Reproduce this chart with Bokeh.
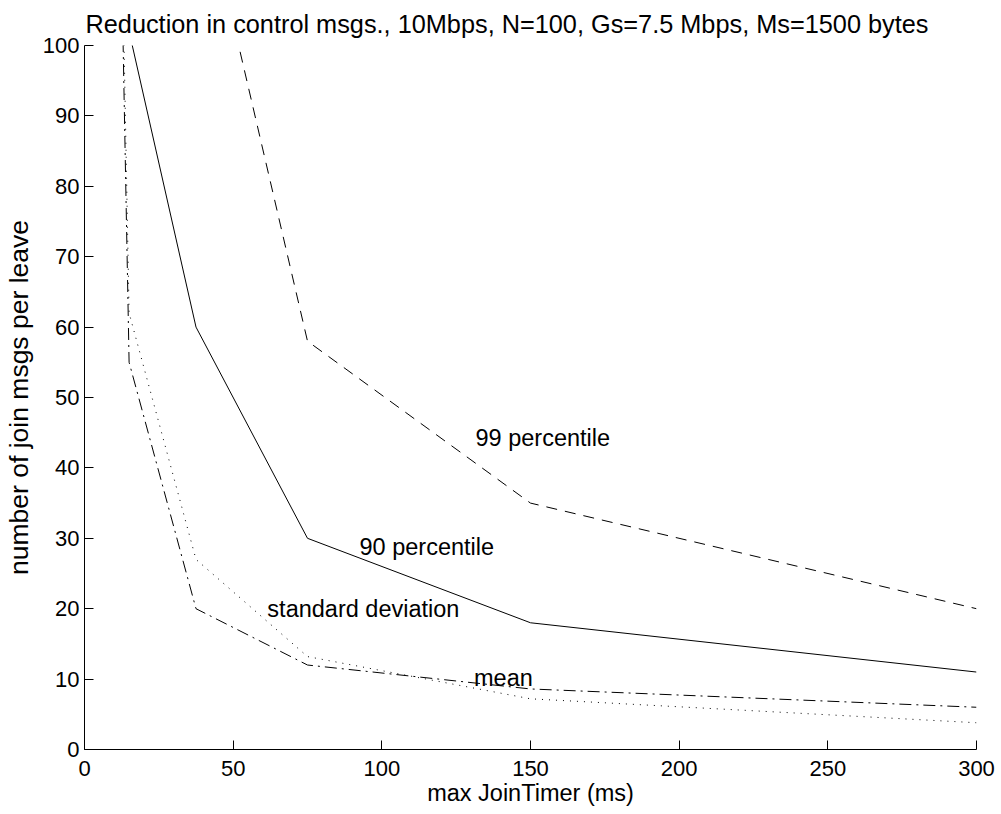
from bokeh.plotting import figure
from bokeh.models import Range1d, FixedTicker, Title
from bokeh.core.properties import value
from bokeh.embed import file_html
from bokeh.resources import INLINE

# data
join_timer = [12.5, 15, 37.5, 75, 150, 300]
pct99 = [230, 200, 126, 58, 35, 20]
pct90 = [110, 102, 60, 30, 18, 11]
mean_msgs = [111, 55, 20, 12, 8.6, 6]
std_msgs = [118, 62, 27, 13.2, 7.2, 3.8]

label_texts = ["99 percentile", "90 percentile", "standard deviation", "mean"]
label_x = [131.5, 92.5, 61.5, 131.0]
label_y = [44.2, 28.8, 20.0, 10.1]

x_ticks = [0, 50, 100, 150, 200, 250, 300]
y_ticks = [0, 10, 20, 30, 40, 50, 60, 70, 80, 90, 100]

title_text = "Reduction in control msgs., 10Mbps, N=100, Gs=7.5 Mbps, Ms=1500 bytes"

FONT = "Liberation Sans"

p = figure(width=1001, height=814, frame_width=892, frame_height=704,
           output_backend="svg", toolbar_location=None,
           x_range=Range1d(0, 300), y_range=Range1d(0, 100),
           min_border_left=84, min_border_right=25, min_border_top=45,
           min_border_bottom=65)
p.title = None
t = Title(text=title_text, align="left", offset=1, text_font=FONT,
          text_font_size="25.3px", text_font_style="normal",
          text_color="black", standoff=12, vertical_align="top")
p.add_layout(t, "above")

p.outline_line_color = None
p.grid.visible = False
p.background_fill_color = "white"
p.border_fill_color = "white"

for ax in (p.xaxis[0], p.yaxis[0]):
    ax.major_tick_in = 9
    ax.major_tick_out = 0
    ax.minor_tick_line_color = None
    ax.axis_line_color = "black"
    ax.major_tick_line_color = "black"
    ax.major_label_text_font = FONT
    ax.major_label_text_font_size = "22px"
    ax.major_label_text_color = "black"
    ax.axis_label_text_font = FONT
    ax.axis_label_text_font_style = "normal"
    ax.axis_label_text_color = "black"

p.xaxis.ticker = FixedTicker(ticks=x_ticks)
p.yaxis.ticker = FixedTicker(ticks=y_ticks)
p.xaxis.axis_label = "max JoinTimer (ms)"
p.yaxis.axis_label = "number of join msgs per leave"
p.xaxis.axis_label_text_font_size = "23.5px"
p.yaxis.axis_label_text_font_size = "26.5px"
p.xaxis.major_label_standoff = 11
p.xaxis.axis_label_standoff = 1
p.yaxis.major_label_standoff = 5
p.yaxis.axis_label_standoff = 6

p.line(join_timer, pct99, line_color="black", line_width=1, line_dash="11 8")
p.line(join_timer, pct90, line_color="black", line_width=1)
p.line(join_timer, mean_msgs, line_color="black", line_width=1, line_dash="12 5 2 5")
p.line(join_timer, std_msgs, line_color="black", line_width=1, line_dash="1 6")

p.text(x=label_x, y=label_y, text=label_texts, text_font=value(FONT),
       text_font_size="23.5px", text_baseline="middle", text_align="left",
       text_color="black")

open("out.html", "w").write(file_html(p, INLINE))
